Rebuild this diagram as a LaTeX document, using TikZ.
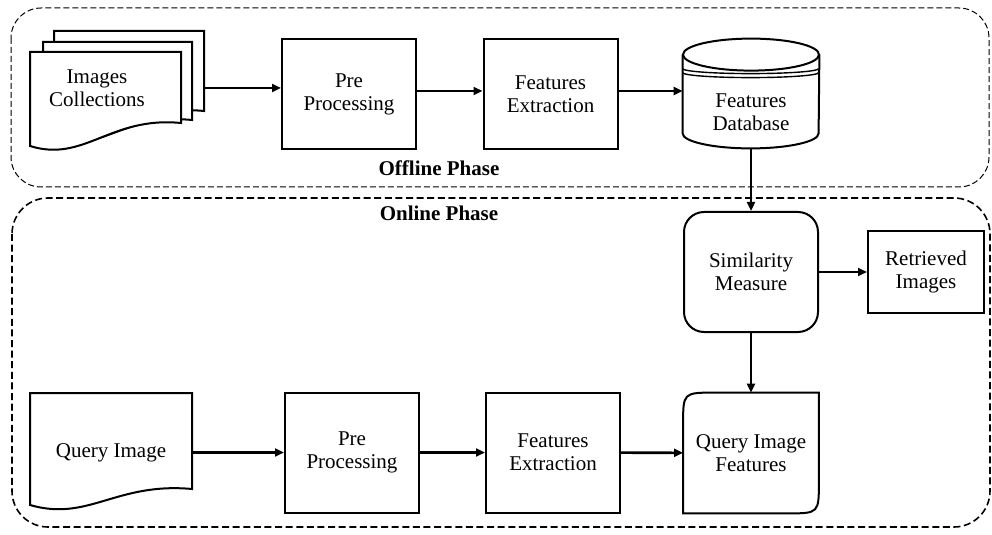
\documentclass[tikz,border=0pt]{standalone}
\usepackage{fontspec}
\setmainfont{Liberation Serif}
\usetikzlibrary{arrows.meta, positioning, calc}

% wavy document outline: left, top, right, bottom-left y, bottom-right y
\newcommand\docshape[5]{%
  \filldraw [boxline, fill=white] (#1,#2) -- (#1,#4)
  .. controls ({#1+0.36*(#3-#1)},{#4+17}) and ({#3-0.47*(#3-#1)},{#5-7}) .. (#3,#5)
  -- (#3,#2) -- cycle;}

\begin{document}
\begin{tikzpicture}
    [x=0.5pt, y=-0.5pt,
    font=\fontsize{10.5}{11.5}\selectfont,
    boxline/.style={line width=1pt},
    phase/.style={line width=0.5pt, dash pattern=on 3pt off 1.5pt, rounded corners=15pt},
    phaselabel/.style={font=\fontsize{10.5}{11.5}\selectfont\bfseries},
    process/.style={rectangle, draw, line width=1pt, align=center, minimum width=67pt,
    minimum height=60pt},
    similarity/.style={process, rounded corners=10pt},
    doclabel/.style={align=center},
    dbbody/.style={rectangle, align=center, minimum width=68pt, minimum height=36pt},
    querybox/.style={rectangle, align=center, minimum width=67.5pt, minimum height=60pt},
    arrow/.style={line width=1.3pt, -{Triangle[length=4.5pt, width=4pt]}}]
    \useasboundingbox (0,0) rectangle (992,535);

    % phases
    \draw [phase] (11,8) rectangle (989,187);
    \draw [phase, line width=0.8pt, dash pattern=on 3.5pt off 1.8pt, rounded corners=18pt]
    (12,198) rectangle (990,527);
    \node [phaselabel] (offline) at (439,168) {Offline Phase};
    \node [phaselabel] (online) at (439,213) {Online Phase};

    % offline row
    \docshape{54}{31}{204}{130}{111}
    \docshape{43}{42}{192}{140}{120}
    \docshape{30}{52}{181}{146}{123}
    \node [doclabel] (ic) at (97,88) {Images\\Collections};
    \coordinate (icedge) at (204,88);
    \node [process, minimum height=55pt] (pp1) at (349,94) {Pre\\Processing};
    \node [process, minimum height=55pt, node distance=100.75pt, right of=pp1] (fe1)
    {Features\\Extraction};
    \node [dbbody] (db) at (751,112) {Features\\Database};
    \draw [boxline] ($(db.north)+(0,-21)$) ellipse [x radius=68, y radius=16];
    \draw [boxline] ($(db.north west)+(0,-21)$) -- ($(db.south west)+(0,-15)$)
    arc [start angle=180, end angle=0, x radius=68, y radius=15] -- ($(db.north east)+(0,-21)$);
    \draw [line width=0.7pt] ($(db.north west)+(0,-7)$)
    arc [start angle=180, end angle=0, x radius=68, y radius=5];
    \draw [line width=0.7pt] ($(db.north west)+(0,-3)$)
    arc [start angle=180, end angle=0, x radius=68, y radius=5];

    % online part
    \node [similarity] (sim) at (751,272) {Similarity\\Measure};
    \node [process, minimum width=58pt, minimum height=41pt, node distance=87.5pt, right of=sim]
    (ret) {Retrieved\\Images};
    \node [querybox, node distance=90.5pt, below of=sim] (qf) {Query Image\\Features};
    \draw [boxline] (qf.south west) -- ($(qf.north west)+(0,32)$) .. controls (qf.north west) ..
    ($(qf.north west)+(32,0)$) -- (qf.north east) -- ($(qf.south east)+(0,-32)$)
    .. controls (qf.south east) .. ($(qf.south east)+(-32,0)$) -- cycle;
    \node [process] (pp2) at (352,452.5) {Pre\\Processing};
    \node [process, node distance=100.5pt, right of=pp2] (fe2) {Features\\Extraction};
    \docshape{30}{393}{192}{505}{489}
    \node [doclabel, minimum width=81pt] (qi) at (111,452.5) {Query Image};

    \draw [arrow] (icedge) -- (icedge -| pp1.west);
    \draw [arrow] ([yshift=1.5pt]pp1.east) -- ([yshift=1.5pt]fe1.west);
    \draw [arrow] ([yshift=1.5pt]fe1.east) -- ([yshift=1.5pt]fe1.east -| db.west);
    \draw [arrow] (db) -- (sim);
    \draw [arrow] (sim) -- (ret);
    \draw [arrow] (sim) -- (qf);
    \draw [arrow] (qi.east) -- (pp2);
    \draw [arrow] (pp2) -- (fe2);
    \draw [arrow] (fe2) -- (qf);
  \end{tikzpicture}
\end{document}
